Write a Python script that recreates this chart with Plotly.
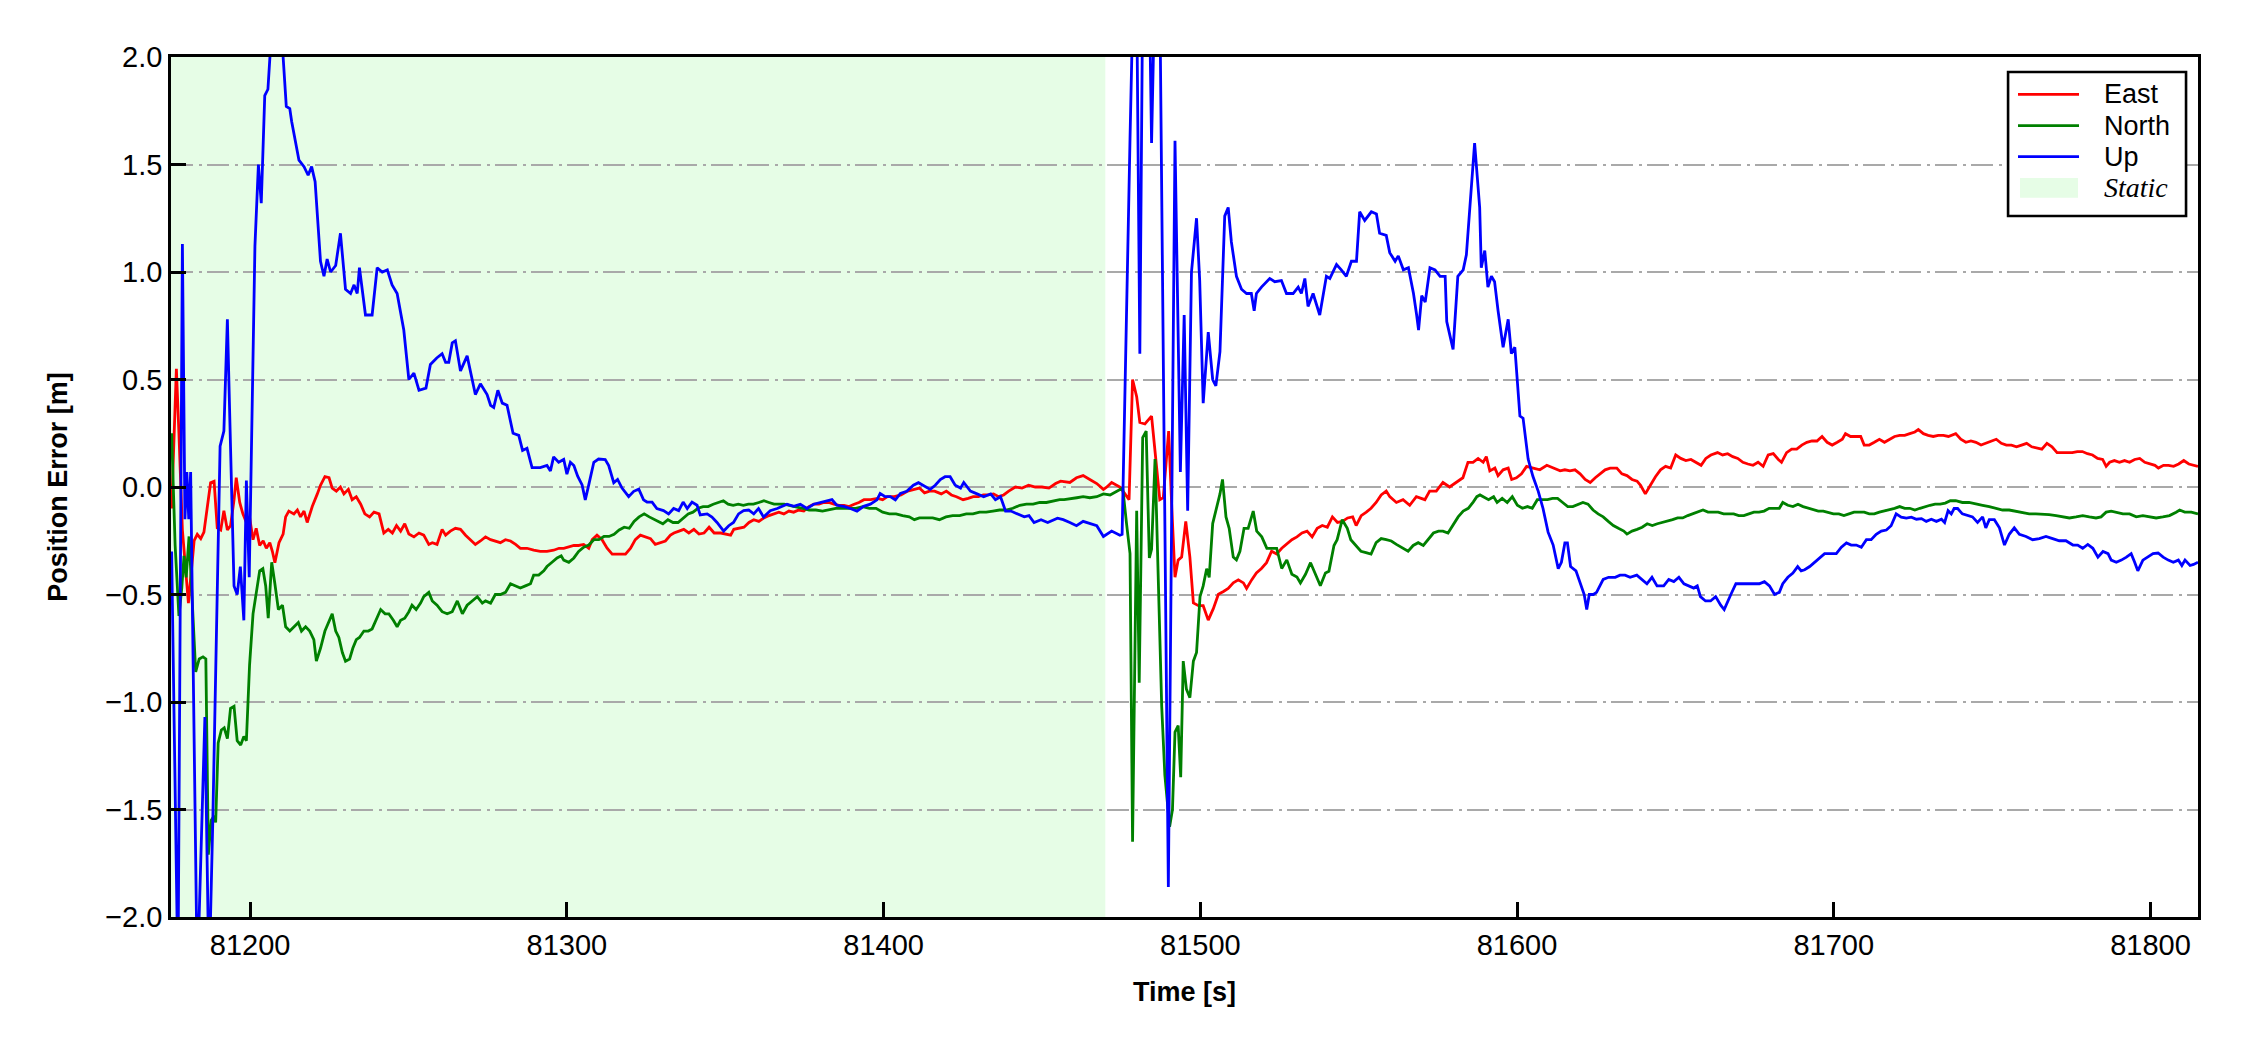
import plotly.graph_objects as go

# ---------------- data ----------------
x_ticks = [81200, 81300, 81400, 81500, 81600, 81700, 81800]
x_tick_labels = ["81200", "81300", "81400", "81500", "81600", "81700", "81800"]
y_ticks = [-2.0, -1.5, -1.0, -0.5, 0.0, 0.5, 1.0, 1.5, 2.0]
y_tick_labels = ["\u22122.0", "\u22121.5", "\u22121.0", "\u22120.5", "0.0", "0.5", "1.0", "1.5", "2.0"]
x_range = [81175, 81815]
y_range = [-2.0, 2.0]
static_interval = [81175, 81470]

east_pts = [
    (81175.2, -0.10), (81176.7, 0.55), (81177.5, 0.25), (81178.6, -0.20), (81180.5, -0.54),
    (81182.3, -0.25), (81183.3, -0.22), (81184.4, -0.24), (81185.4, -0.21), (81186.5, -0.09),
    (81187.5, 0.02), (81188.6, 0.027), (81189.6, -0.19), (81190.7, -0.20), (81191.7, -0.11),
    (81192.8, -0.20), (81193.8, -0.18), (81194.9, -0.06), (81195.6, 0.043), (81196.7, -0.072),
    (81197.7, -0.125), (81198.8, -0.165), (81199.8, -0.139), (81200.9, -0.245), (81201.9, -0.192),
    (81203.0, -0.272), (81204.1, -0.25), (81205.1, -0.285), (81206.2, -0.259), (81207.0, -0.299),
    (81207.8, -0.352), (81209.1, -0.259), (81210.4, -0.219), (81211.2, -0.139), (81212.2, -0.112),
    (81213.8, -0.125), (81214.9, -0.107), (81215.9, -0.139), (81217.0, -0.112), (81218.0, -0.165),
    (81219.6, -0.091), (81221.2, -0.032), (81222.2, 0.008), (81223.6, 0.048), (81224.9, 0.043),
    (81225.9, -0.005), (81227.2, -0.019), (81228.5, 0.0), (81229.6, -0.032), (81231.0, -0.011),
    (81232.2, -0.059), (81233.5, -0.045), (81234.9, -0.08), (81236.2, -0.125), (81237.7, -0.139),
    (81239.1, -0.117), (81240.7, -0.125), (81242.2, -0.214), (81243.6, -0.197), (81244.9, -0.214),
    (81246.2, -0.179), (81247.5, -0.205), (81248.8, -0.171), (81250.1, -0.219), (81251.7, -0.232),
    (81253.3, -0.214), (81254.8, -0.224), (81256.4, -0.267), (81257.5, -0.259), (81259.0, -0.267),
    (81260.6, -0.197), (81261.7, -0.224), (81263.2, -0.205), (81264.8, -0.192), (81266.4, -0.197),
    (81268.0, -0.224), (81269.6, -0.245), (81271.1, -0.267), (81272.7, -0.251), (81274.3, -0.232),
    (81275.9, -0.245), (81277.4, -0.251), (81279.0, -0.259), (81280.6, -0.245), (81282.2, -0.251),
    (81283.8, -0.267), (81285.3, -0.285), (81287.4, -0.285), (81289.5, -0.294), (81291.6, -0.299),
    (81293.7, -0.299), (81295.8, -0.294), (81297.5, -0.285), (81299.0, -0.285), (81300.6, -0.278),
    (81302.2, -0.272), (81303.7, -0.272), (81305.3, -0.267), (81306.9, -0.285), (81308.0, -0.245),
    (81309.5, -0.224), (81311.1, -0.245), (81312.7, -0.285), (81314.3, -0.312), (81316.4, -0.312),
    (81318.5, -0.312), (81320.1, -0.285), (81321.6, -0.245), (81323.2, -0.224), (81324.8, -0.232),
    (81326.4, -0.24), (81327.9, -0.267), (81329.5, -0.259), (81331.1, -0.251), (81332.7, -0.224),
    (81333.8, -0.214), (81335.4, -0.205), (81336.9, -0.197), (81338.5, -0.214), (81340.1, -0.197),
    (81341.7, -0.219), (81343.3, -0.214), (81344.9, -0.187), (81346.5, -0.214), (81348.6, -0.214),
    (81350.1, -0.219), (81351.7, -0.224), (81352.7, -0.197), (81354.3, -0.192), (81355.9, -0.187),
    (81357.5, -0.165), (81359.0, -0.152), (81360.6, -0.16), (81362.2, -0.144), (81363.8, -0.133),
    (81365.4, -0.125), (81366.9, -0.117), (81368.5, -0.125), (81370.1, -0.112), (81371.6, -0.117),
    (81373.2, -0.107), (81374.8, -0.112), (81376.4, -0.091), (81378.0, -0.08), (81379.6, -0.08),
    (81381.1, -0.072), (81382.7, -0.072), (81384.3, -0.08), (81385.9, -0.085), (81387.5, -0.085),
    (81389.1, -0.091), (81390.7, -0.08), (81392.2, -0.072), (81393.8, -0.059), (81395.9, -0.059),
    (81398.1, -0.053), (81399.7, -0.059), (81401.2, -0.045), (81403.4, -0.045), (81405.5, -0.037),
    (81407.6, -0.019), (81409.7, -0.011), (81411.3, -0.005), (81412.9, -0.027), (81414.5, -0.019),
    (81416.1, -0.019), (81418.2, -0.032), (81419.8, -0.019), (81421.4, -0.037), (81423.0, -0.045),
    (81425.1, -0.059), (81426.7, -0.053), (81428.3, -0.045), (81429.9, -0.045), (81431.5, -0.037),
    (81433.1, -0.037), (81434.7, -0.032), (81436.3, -0.045), (81437.9, -0.037), (81439.5, -0.019),
    (81441.6, 0.0), (81443.7, -0.005), (81445.8, 0.008), (81447.9, 0.0), (81450.0, 0.0),
    (81452.2, -0.005), (81454.3, 0.016), (81455.9, 0.027), (81458.8, 0.021), (81460.9, 0.043),
    (81463.0, 0.053), (81465.1, 0.035), (81467.3, 0.016), (81469.4, -0.011), (81470.5, 0.0),
    (81472.0, 0.021), (81474.6, 0.0), (81476.2, -0.032), (81477.5, -0.059), (81478.6, 0.50),
    (81479.9, 0.42), (81480.9, 0.30), (81482.5, 0.293), (81484.6, 0.33), (81486.0, 0.10),
    (81487.2, -0.059), (81488.3, -0.05), (81490.0, 0.26), (81491.0, -0.10), (81492.0, -0.42),
    (81493.0, -0.34), (81494.1, -0.326), (81495.4, -0.16), (81496.7, -0.326), (81497.8, -0.539),
    (81499.4, -0.552), (81500.9, -0.552), (81502.5, -0.619), (81504.1, -0.566), (81505.7, -0.499),
    (81507.3, -0.486), (81508.8, -0.472), (81510.4, -0.446), (81512.0, -0.432), (81513.6, -0.446),
    (81514.6, -0.472), (81516.2, -0.432), (81517.7, -0.40), (81519.3, -0.379), (81520.9, -0.352),
    (81522.5, -0.299), (81524.1, -0.312), (81525.7, -0.285), (81527.3, -0.267), (81528.9, -0.245),
    (81530.5, -0.232), (81532.1, -0.214), (81533.7, -0.205), (81535.3, -0.232), (81536.9, -0.192),
    (81538.5, -0.179), (81540.1, -0.187), (81541.7, -0.139), (81543.3, -0.165), (81544.9, -0.16),
    (81546.5, -0.144), (81548.1, -0.139), (81549.2, -0.179), (81550.8, -0.133), (81552.4, -0.117),
    (81553.9, -0.099), (81555.5, -0.072), (81557.1, -0.037), (81558.7, -0.019), (81559.8, -0.045),
    (81561.9, -0.072), (81564.0, -0.059), (81566.1, -0.085), (81568.2, -0.045), (81570.9, -0.059),
    (81572.4, -0.019), (81574.5, -0.019), (81576.6, 0.021), (81578.7, 0.0), (81580.8, 0.021),
    (81582.9, 0.043), (81584.5, 0.115), (81586.1, 0.115), (81587.7, 0.133), (81589.3, 0.115),
    (81590.3, 0.141), (81591.4, 0.075), (81593.0, 0.088), (81594.0, 0.053), (81595.6, 0.08),
    (81597.2, 0.088), (81598.3, 0.035), (81599.8, 0.043), (81601.4, 0.061), (81603.0, 0.096),
    (81605.1, 0.088), (81607.2, 0.08), (81609.4, 0.101), (81611.5, 0.088), (81613.6, 0.075),
    (81615.1, 0.08), (81616.7, 0.075), (81618.3, 0.08), (81619.9, 0.061), (81621.5, 0.035),
    (81623.1, 0.021), (81624.7, 0.043), (81626.3, 0.061), (81627.8, 0.08), (81629.4, 0.088),
    (81631.5, 0.088), (81633.1, 0.061), (81634.7, 0.053), (81636.3, 0.035), (81637.9, 0.027),
    (81639.0, 0.008), (81640.5, -0.032), (81642.1, 0.008), (81643.7, 0.048), (81645.3, 0.08),
    (81646.9, 0.096), (81648.5, 0.088), (81650.1, 0.149), (81651.7, 0.133), (81653.3, 0.123),
    (81654.9, 0.128), (81656.5, 0.115), (81658.1, 0.101), (81659.6, 0.133), (81661.2, 0.149),
    (81663.3, 0.16), (81664.9, 0.149), (81666.5, 0.155), (81668.1, 0.141), (81669.7, 0.133),
    (81671.3, 0.115), (81672.9, 0.107), (81674.5, 0.101), (81676.1, 0.115), (81677.7, 0.096),
    (81679.3, 0.149), (81680.9, 0.155), (81682.5, 0.128), (81683.5, 0.115), (81685.1, 0.16),
    (81686.7, 0.176), (81688.3, 0.176), (81689.9, 0.195), (81691.5, 0.208), (81693.1, 0.214),
    (81694.7, 0.214), (81696.3, 0.235), (81697.9, 0.208), (81699.5, 0.195), (81701.1, 0.208),
    (81702.7, 0.222), (81703.7, 0.248), (81705.3, 0.235), (81706.9, 0.235), (81708.5, 0.235),
    (81709.6, 0.195), (81711.2, 0.195), (81712.8, 0.208), (81714.4, 0.222), (81716.0, 0.208),
    (81717.6, 0.222), (81719.2, 0.235), (81720.8, 0.24), (81722.4, 0.24), (81724.0, 0.248),
    (81725.6, 0.256), (81726.7, 0.267), (81728.3, 0.248), (81729.8, 0.24), (81731.4, 0.235),
    (81733.0, 0.24), (81734.6, 0.24), (81736.2, 0.235), (81738.5, 0.248), (81740.1, 0.222),
    (81741.7, 0.208), (81743.3, 0.214), (81744.9, 0.208), (81746.5, 0.195), (81748.1, 0.203),
    (81749.7, 0.214), (81751.3, 0.222), (81752.9, 0.203), (81754.5, 0.195), (81756.1, 0.195),
    (81757.7, 0.187), (81759.3, 0.195), (81760.9, 0.203), (81762.5, 0.187), (81764.1, 0.181),
    (81765.7, 0.176), (81767.3, 0.203), (81768.9, 0.187), (81770.5, 0.16), (81772.1, 0.16),
    (81773.7, 0.16), (81775.3, 0.16), (81776.9, 0.165), (81778.5, 0.165), (81780.1, 0.155),
    (81781.7, 0.149), (81783.3, 0.133), (81784.9, 0.128), (81786.0, 0.096), (81787.1, 0.115),
    (81788.6, 0.123), (81790.2, 0.115), (81791.8, 0.123), (81793.4, 0.115), (81795.0, 0.128),
    (81796.6, 0.133), (81798.2, 0.115), (81799.8, 0.107), (81801.4, 0.101), (81802.5, 0.088),
    (81804.1, 0.101), (81805.7, 0.101), (81807.3, 0.096), (81808.9, 0.107), (81810.5, 0.123),
    (81812.1, 0.107), (81813.7, 0.101), (81815.0, 0.096),
]

north_pts = [
    (81175.2, 0.25), (81176.3, -0.27), (81177.5, -0.60), (81178.4, -0.47), (81179.1, -0.32),
    (81179.8, -0.42), (81180.7, -0.23), (81181.5, -0.49), (81182.8, -0.86), (81183.9, -0.80),
    (81185.1, -0.79), (81186.0, -0.80), (81186.8, -1.71), (81187.7, -1.55), (81188.6, -1.53),
    (81189.1, -1.56), (81189.9, -1.19), (81190.9, -1.13), (81191.8, -1.12), (81192.8, -1.17),
    (81193.8, -1.03), (81194.9, -1.02), (81195.9, -1.18), (81197.0, -1.20), (81198.0, -1.16),
    (81198.8, -1.18), (81199.8, -0.83), (81200.9, -0.59), (81201.9, -0.49), (81203.0, -0.39),
    (81204.0, -0.38), (81204.9, -0.46), (81205.7, -0.61), (81206.8, -0.35), (81207.8, -0.45),
    (81208.9, -0.57), (81210.2, -0.55), (81211.2, -0.65), (81212.5, -0.67), (81213.8, -0.65),
    (81215.2, -0.63), (81216.2, -0.67), (81217.5, -0.65), (81218.8, -0.67), (81220.1, -0.71),
    (81220.9, -0.81), (81222.2, -0.75), (81223.6, -0.67), (81224.9, -0.62), (81225.9, -0.59),
    (81227.0, -0.67), (81228.0, -0.70), (81229.1, -0.77), (81230.1, -0.81), (81231.4, -0.80),
    (81232.4, -0.75), (81233.5, -0.71), (81234.5, -0.70), (81235.9, -0.67), (81237.3, -0.67),
    (81238.5, -0.66), (81239.6, -0.62), (81241.2, -0.57), (81242.6, -0.59), (81243.8, -0.59),
    (81245.2, -0.62), (81246.4, -0.65), (81247.5, -0.62), (81248.8, -0.61), (81250.1, -0.58),
    (81251.1, -0.55), (81252.4, -0.57), (81253.8, -0.54), (81254.8, -0.51), (81256.4, -0.49),
    (81257.5, -0.53), (81259.0, -0.55), (81260.6, -0.58), (81262.2, -0.59), (81263.8, -0.58),
    (81265.4, -0.53), (81267.0, -0.59), (81268.5, -0.55), (81270.1, -0.53), (81271.7, -0.51),
    (81273.3, -0.54), (81274.3, -0.53), (81275.9, -0.54), (81277.4, -0.50), (81279.0, -0.50),
    (81280.6, -0.49), (81282.2, -0.45), (81283.8, -0.46), (81285.3, -0.47), (81286.9, -0.46),
    (81288.5, -0.45), (81289.5, -0.41), (81291.1, -0.41), (81292.7, -0.39), (81293.7, -0.37),
    (81295.3, -0.35), (81296.9, -0.33), (81298.2, -0.32), (81299.0, -0.34), (81300.6, -0.35),
    (81302.2, -0.33), (81303.7, -0.30), (81305.3, -0.28), (81306.9, -0.27), (81308.5, -0.245),
    (81310.1, -0.245), (81311.7, -0.23), (81313.3, -0.23), (81314.9, -0.22), (81316.5, -0.20),
    (81318.1, -0.187), (81319.7, -0.192), (81321.2, -0.16), (81322.8, -0.139), (81324.4, -0.125),
    (81326.0, -0.139), (81327.6, -0.152), (81329.2, -0.165), (81330.3, -0.171), (81331.9, -0.152),
    (81333.5, -0.165), (81335.1, -0.165), (81336.7, -0.144), (81338.3, -0.125), (81339.8, -0.117),
    (81341.4, -0.099), (81343.0, -0.091), (81344.6, -0.091), (81346.2, -0.08), (81347.8, -0.072),
    (81349.4, -0.064), (81350.9, -0.08), (81352.5, -0.085), (81354.1, -0.08), (81355.7, -0.085),
    (81357.3, -0.08), (81358.9, -0.08), (81360.6, -0.072), (81362.2, -0.064), (81363.8, -0.072),
    (81365.4, -0.08), (81367.0, -0.08), (81368.6, -0.08), (81370.2, -0.085), (81372.3, -0.091),
    (81374.4, -0.099), (81376.5, -0.107), (81378.6, -0.107), (81380.7, -0.112), (81382.8, -0.107),
    (81384.9, -0.099), (81387.0, -0.099), (81389.1, -0.099), (81391.2, -0.099), (81393.4, -0.091),
    (81395.5, -0.099), (81397.6, -0.099), (81399.7, -0.117), (81401.8, -0.125), (81403.9, -0.125),
    (81406.0, -0.133), (81408.1, -0.139), (81409.7, -0.152), (81411.3, -0.144), (81413.4, -0.144),
    (81415.5, -0.144), (81417.6, -0.152), (81419.7, -0.139), (81421.8, -0.133), (81424.0, -0.133),
    (81426.1, -0.125), (81428.2, -0.125), (81430.3, -0.117), (81432.4, -0.117), (81434.5, -0.112),
    (81436.6, -0.107), (81438.7, -0.107), (81440.8, -0.099), (81443.0, -0.085), (81445.1, -0.08),
    (81447.2, -0.08), (81449.3, -0.072), (81451.4, -0.072), (81453.5, -0.064), (81455.6, -0.059),
    (81457.0, -0.059), (81459.0, -0.053), (81461.0, -0.05), (81463.0, -0.045), (81465.1, -0.05),
    (81467.3, -0.045), (81469.4, -0.032), (81471.5, -0.037), (81473.5, -0.019), (81475.5, -0.005),
    (81476.7, -0.17), (81477.8, -0.31), (81478.6, -1.65), (81479.9, -0.11), (81480.7, -0.91),
    (81481.8, 0.23), (81482.9, 0.26), (81483.9, -0.33), (81484.6, -0.29), (81485.7, 0.13),
    (81487.8, -1.02), (81488.8, -1.34), (81490.3, -1.58), (81491.2, -1.50), (81492.0, -1.14),
    (81493.0, -1.11), (81493.8, -1.35), (81494.6, -0.81), (81495.6, -0.94), (81496.7, -0.98),
    (81497.8, -0.81), (81498.8, -0.77), (81499.9, -0.51), (81500.9, -0.46), (81502.0, -0.38),
    (81502.8, -0.42), (81503.9, -0.17), (81505.1, -0.10), (81506.2, -0.032), (81507.0, 0.035),
    (81508.1, -0.139), (81509.1, -0.192), (81510.4, -0.326), (81511.4, -0.339), (81512.5, -0.299),
    (81513.8, -0.192), (81515.1, -0.192), (81516.7, -0.112), (81517.8, -0.205), (81519.4, -0.232),
    (81521.0, -0.285), (81522.5, -0.285), (81524.1, -0.285), (81525.7, -0.379), (81527.3, -0.339),
    (81528.9, -0.406), (81530.5, -0.419), (81531.6, -0.446), (81533.2, -0.406), (81534.8, -0.352),
    (81536.4, -0.406), (81537.9, -0.459), (81539.5, -0.40), (81540.6, -0.392), (81542.2, -0.272),
    (81543.2, -0.245), (81544.8, -0.152), (81546.4, -0.192), (81547.5, -0.245), (81549.1, -0.272),
    (81550.7, -0.299), (81552.3, -0.305), (81553.9, -0.312), (81555.5, -0.259), (81557.1, -0.24),
    (81558.7, -0.245), (81560.3, -0.251), (81561.9, -0.267), (81564.0, -0.285), (81565.6, -0.299),
    (81567.2, -0.272), (81568.8, -0.259), (81570.4, -0.272), (81572.0, -0.245), (81573.6, -0.214),
    (81575.2, -0.205), (81576.6, -0.205), (81578.2, -0.214), (81579.8, -0.179), (81581.4, -0.139),
    (81583.0, -0.112), (81584.6, -0.099), (81586.2, -0.069), (81587.3, -0.045), (81588.3, -0.037),
    (81589.4, -0.045), (81591.0, -0.059), (81592.6, -0.045), (81593.7, -0.072), (81595.3, -0.053),
    (81596.9, -0.072), (81598.5, -0.045), (81600.1, -0.085), (81601.7, -0.099), (81603.3, -0.091),
    (81604.8, -0.099), (81606.4, -0.059), (81608.0, -0.059), (81609.6, -0.059), (81611.2, -0.053),
    (81612.8, -0.053), (81614.4, -0.072), (81616.0, -0.091), (81617.6, -0.091), (81619.2, -0.08),
    (81620.8, -0.072), (81622.4, -0.08), (81624.0, -0.107), (81625.6, -0.125), (81627.2, -0.139),
    (81628.8, -0.16), (81630.4, -0.179), (81632.0, -0.192), (81633.7, -0.205), (81634.7, -0.219),
    (81636.3, -0.205), (81637.9, -0.197), (81639.5, -0.187), (81641.1, -0.171), (81642.7, -0.179),
    (81644.3, -0.171), (81645.9, -0.165), (81647.5, -0.16), (81649.1, -0.152), (81650.7, -0.144),
    (81652.3, -0.144), (81653.9, -0.133), (81655.5, -0.125), (81657.1, -0.117), (81658.7, -0.107),
    (81660.3, -0.117), (81661.9, -0.117), (81663.5, -0.117), (81665.2, -0.125), (81666.8, -0.125),
    (81668.4, -0.125), (81670.0, -0.133), (81671.6, -0.133), (81673.2, -0.125), (81674.8, -0.117),
    (81676.4, -0.117), (81678.0, -0.112), (81679.6, -0.099), (81681.2, -0.099), (81682.8, -0.099),
    (81683.9, -0.072), (81685.5, -0.085), (81687.1, -0.091), (81688.7, -0.08), (81690.3, -0.091),
    (81691.9, -0.099), (81693.5, -0.107), (81695.1, -0.112), (81696.7, -0.112), (81698.3, -0.117),
    (81699.9, -0.125), (81701.6, -0.125), (81703.2, -0.133), (81704.8, -0.125), (81706.4, -0.117),
    (81708.0, -0.117), (81709.6, -0.117), (81711.2, -0.125), (81712.8, -0.125), (81714.4, -0.117),
    (81716.0, -0.112), (81717.6, -0.107), (81719.2, -0.099), (81720.8, -0.091), (81722.4, -0.099),
    (81724.0, -0.099), (81725.6, -0.107), (81727.2, -0.099), (81728.8, -0.091), (81730.4, -0.085),
    (81732.0, -0.08), (81733.6, -0.08), (81735.2, -0.075), (81736.8, -0.064), (81738.5, -0.064),
    (81740.6, -0.072), (81742.7, -0.072), (81744.8, -0.08), (81747.0, -0.085), (81749.1, -0.091),
    (81751.2, -0.099), (81753.3, -0.107), (81755.4, -0.107), (81757.5, -0.112), (81759.6, -0.117),
    (81761.7, -0.125), (81763.8, -0.125), (81765.9, -0.125), (81768.0, -0.128), (81770.2, -0.133),
    (81772.3, -0.139), (81774.4, -0.144), (81776.5, -0.139), (81778.6, -0.133), (81780.7, -0.139),
    (81782.8, -0.144), (81784.4, -0.139), (81786.0, -0.117), (81787.6, -0.112), (81789.2, -0.117),
    (81791.3, -0.125), (81793.4, -0.125), (81795.5, -0.139), (81797.6, -0.133), (81799.7, -0.139),
    (81801.8, -0.144), (81803.9, -0.139), (81806.0, -0.133), (81808.1, -0.117), (81809.2, -0.107),
    (81810.8, -0.117), (81812.9, -0.117), (81815.0, -0.125),
]

up_pts = [
    (81175.2, -0.30), (81177.2, -2.30), (81178.6, 1.13), (81179.4, -0.15), (81180.0, 0.07),
    (81180.6, -0.15), (81181.2, 0.07), (81183.3, -2.30), (81185.7, -1.07), (81187.0, -2.30),
    (81188.2, -1.55), (81190.5, 0.19), (81191.7, 0.26), (81192.8, 0.78), (81193.6, 0.30),
    (81194.9, -0.46), (81195.9, -0.50), (81196.9, -0.37), (81198.0, -0.62), (81198.8, 0.03),
    (81199.7, -0.42), (81201.5, 1.12), (81202.6, 1.50), (81203.5, 1.32), (81204.6, 1.82),
    (81205.6, 1.85), (81207.5, 2.30), (81209.5, 2.30), (81210.4, 2.00), (81211.4, 1.77),
    (81212.5, 1.76), (81213.1, 1.70), (81215.4, 1.52), (81217.0, 1.49), (81218.3, 1.45),
    (81219.4, 1.49), (81220.5, 1.42), (81222.2, 1.05), (81223.3, 0.98), (81224.3, 1.06),
    (81225.4, 1.00), (81227.0, 1.03), (81228.5, 1.18), (81230.1, 0.92), (81231.7, 0.90),
    (81232.8, 0.94), (81233.8, 0.90), (81234.5, 1.02), (81236.4, 0.80), (81238.5, 0.80),
    (81240.1, 1.02), (81241.7, 1.00), (81243.3, 1.01), (81244.8, 0.94), (81246.4, 0.90),
    (81248.5, 0.73), (81250.1, 0.50), (81251.7, 0.53), (81253.3, 0.45), (81255.5, 0.46),
    (81256.9, 0.57), (81258.9, 0.60), (81260.6, 0.62), (81261.7, 0.58), (81262.7, 0.58),
    (81263.8, 0.67), (81264.8, 0.68), (81266.4, 0.54), (81268.5, 0.61), (81271.1, 0.43),
    (81272.7, 0.48), (81274.8, 0.43), (81275.9, 0.38), (81276.9, 0.37), (81278.2, 0.45),
    (81279.6, 0.39), (81281.1, 0.38), (81283.0, 0.25), (81284.8, 0.24), (81286.0, 0.17),
    (81287.4, 0.18), (81289.0, 0.09), (81291.6, 0.09), (81293.7, 0.10), (81294.8, 0.075),
    (81295.8, 0.14), (81297.4, 0.115), (81299.0, 0.128), (81300.0, 0.06), (81301.1, 0.115),
    (81302.2, 0.10), (81303.4, 0.05), (81304.8, 0.01), (81305.8, -0.06), (81306.9, 0.01),
    (81308.5, 0.115), (81310.0, 0.13), (81312.1, 0.128), (81313.2, 0.10), (81314.8, 0.02),
    (81316.0, 0.035), (81317.4, -0.005), (81319.5, -0.045), (81321.1, -0.02), (81322.7, -0.01),
    (81324.2, -0.06), (81325.3, -0.07), (81326.9, -0.07), (81328.4, -0.10), (81330.5, -0.11),
    (81332.1, -0.125), (81333.7, -0.10), (81335.3, -0.11), (81336.7, -0.07), (81338.0, -0.10),
    (81339.5, -0.07), (81341.1, -0.085), (81342.1, -0.13), (81344.3, -0.125), (81345.8, -0.14),
    (81347.4, -0.165), (81349.5, -0.205), (81351.1, -0.18), (81352.6, -0.165), (81354.2, -0.125),
    (81355.8, -0.11), (81357.4, -0.107), (81359.0, -0.125), (81360.5, -0.10), (81362.1, -0.14),
    (81364.2, -0.11), (81366.4, -0.10), (81369.5, -0.08), (81371.6, -0.09), (81373.7, -0.08),
    (81375.8, -0.10), (81377.9, -0.08), (81380.0, -0.072), (81382.1, -0.064), (81383.7, -0.059),
    (81385.2, -0.085), (81387.4, -0.09), (81389.5, -0.10), (81391.6, -0.112), (81393.7, -0.09),
    (81395.8, -0.08), (81397.9, -0.06), (81398.9, -0.03), (81400.5, -0.045), (81402.1, -0.045),
    (81403.7, -0.06), (81405.3, -0.03), (81407.3, -0.02), (81409.4, 0.008), (81411.0, 0.02),
    (81412.6, 0.008), (81414.7, -0.011), (81416.3, 0.008), (81417.9, 0.035), (81419.4, 0.048),
    (81421.0, 0.048), (81422.6, 0.008), (81424.3, -0.005), (81425.3, 0.021), (81427.4, -0.019),
    (81429.5, -0.032), (81431.6, -0.045), (81433.8, -0.032), (81435.3, -0.059), (81436.9, -0.045),
    (81438.5, -0.112), (81440.2, -0.112), (81442.3, -0.125), (81444.4, -0.139), (81445.9, -0.133),
    (81447.5, -0.165), (81449.7, -0.152), (81451.8, -0.165), (81454.9, -0.145), (81456.7, -0.152),
    (81458.8, -0.165), (81460.9, -0.18), (81463.0, -0.16), (81465.1, -0.17), (81467.3, -0.18),
    (81469.4, -0.23), (81470.5, -0.22), (81472.0, -0.205), (81474.6, -0.224), (81475.3, -0.22),
    (81477.8, 1.62), (81478.8, 2.30), (81479.9, 2.30), (81480.9, 0.62), (81481.8, 2.30),
    (81483.9, 2.30), (81484.6, 1.60), (81485.6, 2.30), (81487.2, 2.30), (81489.9, -1.86),
    (81492.0, 1.61), (81493.7, 0.07), (81494.9, 0.80), (81496.0, -0.11), (81497.2, 1.00),
    (81498.8, 1.25), (81499.8, 0.96), (81500.9, 0.39), (81502.5, 0.72), (81503.9, 0.50),
    (81504.9, 0.47), (81506.2, 0.63), (81507.7, 1.26), (81508.8, 1.30), (81509.8, 1.14),
    (81511.4, 0.98), (81513.0, 0.92), (81514.6, 0.90), (81516.1, 0.90), (81517.0, 0.82),
    (81517.7, 0.90), (81519.3, 0.93), (81521.9, 0.97), (81523.5, 0.955), (81525.6, 0.96),
    (81527.2, 0.90), (81529.3, 0.90), (81530.9, 0.93), (81531.9, 0.90), (81533.0, 0.97),
    (81534.0, 0.84), (81535.6, 0.90), (81537.7, 0.80), (81539.8, 0.98), (81540.9, 0.97),
    (81543.0, 1.035), (81544.5, 1.01), (81546.1, 0.98), (81547.7, 1.05), (81549.3, 1.05),
    (81550.3, 1.28), (81551.9, 1.24), (81554.0, 1.28), (81555.6, 1.27), (81556.6, 1.18),
    (81558.7, 1.17), (81559.8, 1.09), (81561.5, 1.05), (81562.5, 1.075), (81564.1, 1.01),
    (81565.7, 1.02), (81567.3, 0.90), (81568.3, 0.80), (81568.9, 0.73), (81569.9, 0.89),
    (81571.0, 0.86), (81572.5, 1.02), (81574.1, 1.01), (81575.7, 0.98), (81577.3, 0.98),
    (81577.8, 0.77), (81579.8, 0.64), (81581.3, 0.98), (81583.0, 1.01), (81584.0, 1.08),
    (81586.6, 1.60), (81588.2, 1.30), (81588.7, 1.02), (81589.8, 1.10), (81590.8, 0.93),
    (81591.9, 0.98), (81592.9, 0.955), (81594.0, 0.82), (81595.6, 0.65), (81597.2, 0.78),
    (81598.2, 0.62), (81599.3, 0.65), (81600.9, 0.33), (81601.9, 0.32), (81603.5, 0.13),
    (81605.0, 0.05), (81606.7, -0.02), (81608.2, -0.10), (81609.8, -0.21), (81611.4, -0.27),
    (81613.0, -0.38), (81614.0, -0.35), (81615.1, -0.26), (81615.9, -0.26), (81616.9, -0.37),
    (81618.6, -0.39), (81619.9, -0.45), (81621.2, -0.50), (81622.0, -0.57), (81622.8, -0.50),
    (81624.1, -0.50), (81625.1, -0.49), (81627.2, -0.43), (81628.9, -0.42), (81631.0, -0.42),
    (81632.5, -0.41), (81634.1, -0.41), (81635.7, -0.42), (81637.8, -0.41), (81639.4, -0.43),
    (81641.0, -0.45), (81642.6, -0.42), (81644.2, -0.46), (81646.3, -0.46), (81647.9, -0.43),
    (81649.5, -0.44), (81651.1, -0.42), (81652.7, -0.45), (81654.2, -0.46), (81655.8, -0.47),
    (81656.9, -0.46), (81657.9, -0.51), (81659.5, -0.53), (81661.1, -0.53), (81662.7, -0.51),
    (81664.3, -0.55), (81665.4, -0.57), (81666.4, -0.54), (81667.5, -0.50), (81669.1, -0.45),
    (81670.7, -0.45), (81672.8, -0.45), (81674.9, -0.45), (81676.5, -0.45), (81678.1, -0.44),
    (81679.7, -0.46), (81681.3, -0.50), (81682.8, -0.49), (81683.9, -0.45), (81685.5, -0.42),
    (81687.1, -0.40), (81688.6, -0.37), (81689.7, -0.39), (81690.8, -0.385), (81692.4, -0.37),
    (81693.9, -0.35), (81695.5, -0.33), (81697.1, -0.31), (81699.2, -0.31), (81700.8, -0.31),
    (81702.4, -0.28), (81704.0, -0.26), (81705.5, -0.27), (81707.1, -0.27), (81708.7, -0.28),
    (81710.3, -0.245), (81711.8, -0.245), (81713.4, -0.22), (81715.0, -0.205), (81716.6, -0.20),
    (81718.1, -0.18), (81719.7, -0.125), (81721.3, -0.14), (81722.9, -0.145), (81724.5, -0.14),
    (81726.1, -0.15), (81727.7, -0.147), (81729.2, -0.16), (81730.8, -0.15), (81732.4, -0.16),
    (81734.0, -0.15), (81735.0, -0.165), (81736.1, -0.11), (81737.1, -0.125), (81738.0, -0.10),
    (81739.1, -0.10), (81740.6, -0.125), (81742.2, -0.133), (81743.8, -0.139), (81745.4, -0.165),
    (81747.0, -0.139), (81748.0, -0.19), (81749.1, -0.152), (81750.7, -0.152), (81752.3, -0.19),
    (81753.9, -0.27), (81755.4, -0.22), (81757.0, -0.19), (81758.6, -0.22), (81760.7, -0.23),
    (81762.8, -0.245), (81764.9, -0.24), (81767.0, -0.23), (81769.1, -0.24), (81771.2, -0.25),
    (81773.3, -0.25), (81775.5, -0.27), (81777.0, -0.27), (81778.6, -0.285), (81780.2, -0.267),
    (81781.8, -0.285), (81783.4, -0.326), (81785.0, -0.30), (81786.6, -0.31), (81787.6, -0.34),
    (81789.2, -0.35), (81790.8, -0.34), (81792.4, -0.326), (81793.9, -0.31), (81795.0, -0.35),
    (81796.0, -0.39), (81797.6, -0.34), (81799.2, -0.326), (81800.8, -0.31), (81802.4, -0.307),
    (81804.0, -0.326), (81805.6, -0.34), (81807.2, -0.35), (81808.8, -0.34), (81809.9, -0.365),
    (81810.9, -0.34), (81812.5, -0.365), (81813.6, -0.36), (81815.0, -0.35),
]

series_names = ["East", "North", "Up"]
series_points = [east_pts, north_pts, up_pts]
series_colors = ["#ff0000", "#008000", "#0000ff"]
static_label = "Static"

# ---------------- figure ----------------
FONT = "Arial, Liberation Sans, Helvetica, sans-serif"
SERIF = "Liberation Serif, Times New Roman, serif"
STATIC_FILL = "#e6fde6"

fig = go.Figure()

for name, pts, color in zip(series_names, series_points, series_colors):
    t = [p[0] for p in pts]
    v = [p[1] for p in pts]
    fig.add_trace(go.Scatter(x=t, y=v, mode="lines", name=name,
                             line=dict(color=color, width=2.8), showlegend=False))

# static period shading
fig.add_shape(type="rect", xref="x", yref="y domain",
              x0=static_interval[0], x1=static_interval[1], y0=0, y1=1,
              fillcolor=STATIC_FILL, line=dict(width=0), layer="below")

# ---- hand-built legend box (matplotlib-style, upper right) ----
LEG = dict(x0=0.9063, x1=0.9941, y0=0.8151, y1=0.9826)
fig.add_shape(type="rect", xref="x domain", yref="y domain",
              x0=LEG["x0"], x1=LEG["x1"], y0=LEG["y0"], y1=LEG["y1"],
              fillcolor="white", line=dict(color="black", width=2.6), layer="above")
handle_x0, handle_x1, text_x = 0.9112, 0.9413, 0.9531
row_y = [0.9566, 0.9201, 0.8841, 0.8477]
for i, (name, color) in enumerate(zip(series_names, series_colors)):
    fig.add_shape(type="line", xref="x domain", yref="y domain",
                  x0=handle_x0, x1=handle_x1, y0=row_y[i], y1=row_y[i],
                  line=dict(color=color, width=2.8), layer="above")
    fig.add_annotation(xref="x domain", yref="y domain", x=text_x, y=row_y[i],
                       text=name, showarrow=False, xanchor="left", yanchor="middle",
                       borderpad=0, font=dict(family=FONT, size=27, color="black"))
fig.add_shape(type="rect", xref="x domain", yref="y domain",
              x0=handle_x0 + 0.001, x1=handle_x1 - 0.0005, y0=row_y[3] - 0.0115, y1=row_y[3] + 0.0115,
              fillcolor=STATIC_FILL, line=dict(width=0), layer="above")
fig.add_annotation(xref="x domain", yref="y domain", x=text_x, y=row_y[3],
                   text="<i>" + static_label + "</i>", showarrow=False, xanchor="left", yanchor="middle",
                   borderpad=0, font=dict(family=SERIF, size=28, color="black"))

axis_common = dict(
    showline=True, linecolor="black", linewidth=2.5, mirror=True,
    ticks="inside", ticklen=15, tickwidth=2.5, tickcolor="black",
    tickfont=dict(family=FONT, size=29, color="black"),
    zeroline=False,
)

fig.update_xaxes(range=x_range, tickmode="array", tickvals=x_ticks, ticktext=x_tick_labels,
                 showgrid=False,
                 title=dict(text="<b>Time [s]</b>", font=dict(family=FONT, size=27, color="black"),
                            standoff=23),
                 **axis_common)
fig.update_yaxes(range=y_range, tickmode="array", tickvals=y_ticks, ticktext=y_tick_labels,
                 showgrid=True, gridcolor="#a9a9a9", gridwidth=2, griddash="22px,5.5px,3px,5.5px",
                 title=dict(text="<b>Position Error [m]</b>", font=dict(family=FONT, size=27, color="black"),
                            standoff=30),
                 **axis_common)

# the page adds an 8px body margin, so the figure is 16px smaller than the window
fig.update_layout(
    width=2234, height=1034,
    margin=dict(l=163, r=44, t=49, b=125),
    plot_bgcolor="white", paper_bgcolor="white",
    showlegend=False,
)

fig.write_html("out.html")
